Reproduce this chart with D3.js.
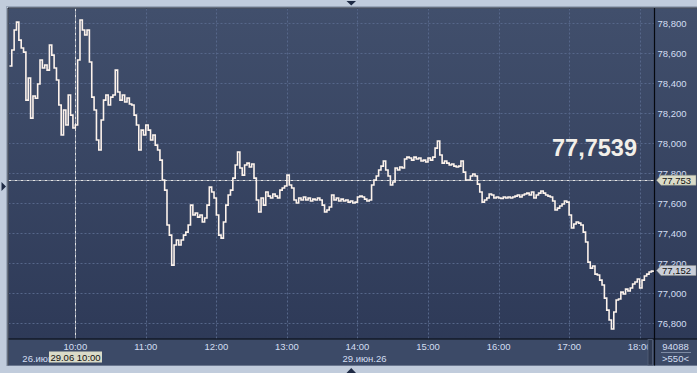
<!DOCTYPE html>
<html>
<head>
<meta charset="utf-8">
<script src="https://cdn.jsdelivr.net/npm/d3@7"></script>
<style>
  html, body { margin: 0; padding: 0; background: #c1ccdc; overflow: hidden; }
  svg { display: block; }
  .lbl { font-family: "Liberation Sans", Arial, sans-serif; font-size: 9.5px; fill: #d3def2; }
  .grid line { stroke: #56678a; stroke-width: 1; stroke-dasharray: 2,2; }
</style>
</head>
<body>
<div id="chart"></div>
<script>
// USD/RUB intraday, 2-minute closes. Time is minutes relative to 29.06 10:00
// (points before 0 are the tail of the 26.06 session).
const startMinute = -56;
const stepMinutes = 2;
const prices = [
  78.515, 78.622, 78.755, 78.808, 78.688, 78.635, 78.608, 78.288, 78.435, 78.168,
  78.315, 78.300, 78.395, 78.555, 78.502, 78.522, 78.488, 78.655, 78.588, 78.502,
  78.422, 78.255, 78.055, 78.222, 78.122, 78.322, 78.188, 78.102, 78.122, 78.555,
  78.822, 78.755, 78.722, 78.755, 78.542, 78.308, 78.222, 78.022, 77.955, 78.155,
  78.288, 78.322, 78.255, 78.308, 78.322, 78.488, 78.342, 78.288, 78.322, 78.275,
  78.302, 78.262, 78.255, 78.188, 78.122, 77.955, 78.088, 78.055, 78.122, 78.088,
  78.022, 78.055, 77.988, 77.955, 77.888, 77.755, 77.688, 77.455, 77.388, 77.188,
  77.322, 77.355, 77.322, 77.355, 77.388, 77.408, 77.455, 77.588, 77.522, 77.535,
  77.508, 77.522, 77.475, 77.502, 77.588, 77.708, 77.675, 77.635, 77.522, 77.388,
  77.368, 77.475, 77.588, 77.655, 77.688, 77.768, 77.855, 77.942, 77.835, 77.788,
  77.855, 77.868, 77.842, 77.862, 77.768, 77.622, 77.542, 77.635, 77.588, 77.675,
  77.648, 77.635, 77.662, 77.648, 77.635, 77.688, 77.702, 77.715, 77.788, 77.722,
  77.702, 77.622, 77.602, 77.635, 77.622, 77.642, 77.622, 77.635, 77.615, 77.628,
  77.622, 77.635, 77.622, 77.588, 77.542, 77.555, 77.575, 77.655, 77.622, 77.635,
  77.615, 77.628, 77.615, 77.622, 77.608, 77.615, 77.602, 77.608, 77.642, 77.648,
  77.642, 77.628, 77.615, 77.622, 77.722, 77.755, 77.782, 77.822, 77.848, 77.882,
  77.822, 77.782, 77.722, 77.742, 77.835, 77.822, 77.842, 77.835, 77.895, 77.908,
  77.902, 77.888, 77.908, 77.895, 77.902, 77.882, 77.888, 77.875, 77.902, 77.888,
  77.908, 77.968, 78.015, 77.922, 77.868, 77.882, 77.868, 77.855, 77.862, 77.848,
  77.842, 77.848, 77.882, 77.808, 77.755, 77.755, 77.782, 77.795, 77.782, 77.728,
  77.675, 77.608, 77.622, 77.635, 77.662, 77.655, 77.635, 77.642, 77.635, 77.632,
  77.642, 77.635, 77.642, 77.635, 77.642, 77.648, 77.655, 77.642, 77.655, 77.662,
  77.668, 77.655, 77.675, 77.635, 77.655, 77.668, 77.682, 77.668, 77.655, 77.648,
  77.642, 77.615, 77.555, 77.568, 77.582, 77.595, 77.615, 77.608, 77.522, 77.435,
  77.462, 77.475, 77.468, 77.455, 77.408, 77.342, 77.208, 77.168, 77.182, 77.128,
  77.122, 77.088, 77.055, 76.968, 76.888, 76.822, 76.762, 76.875, 76.955, 76.962,
  77.008, 76.995, 77.028, 77.015, 77.035, 77.062, 77.075, 77.095, 77.035, 77.088,
  77.115, 77.128, 77.142, 77.148, 77.152
];

const priceTicks = [76.8, 77.0, 77.2, 77.4, 77.6, 77.8, 78.0, 78.2, 78.4, 78.6, 78.8];
const timeTicks  = [0, 60, 120, 180, 240, 300, 360, 420, 480];
const timeLabels = ["10:00", "11:00", "12:00", "13:00", "14:00", "15:00", "16:00", "17:00", "18:00"];
const dateLabels = [
  { minute: -45, text: "26.июн", anchor: "start" },
  { minute: 246, text: "29.июн.26", anchor: "middle" }
];
const crossMinute = 0;
const crossLabel = "29.06 10:00";
const crossPrice = 77.7539;
const bigQuote = "77,7539";
const volumeText = "94088";
const scaleText = ">550<";

const W = 697, H = 373;
const plot = { left: 8.5, top: 8.5, right: 654.5, bottom: 339 };

const svg = d3.select("#chart").append("svg")
  .attr("width", W).attr("height", H);

const defs = svg.append("defs");
const bg = defs.append("linearGradient").attr("id", "bg")
  .attr("x1", 0).attr("y1", 0).attr("x2", 0).attr("y2", 1);
bg.append("stop").attr("offset", "0%").attr("stop-color", "#414f6c");
bg.append("stop").attr("offset", "100%").attr("stop-color", "#2e3a58");
defs.append("clipPath").attr("id", "clip").append("rect")
  .attr("x", plot.left).attr("y", plot.top)
  .attr("width", plot.right - plot.left).attr("height", plot.bottom - plot.top);

// frame
svg.append("rect").attr("x", 0).attr("y", 0).attr("width", W).attr("height", H)
  .attr("fill", "#c1ccdc");
svg.append("rect").attr("x", 6.5).attr("y", 6.5).attr("width", W).attr("height", 359)
  .attr("fill", "none").attr("stroke", "#9aa7ba");

// panels
svg.append("rect").attr("x", plot.left).attr("y", plot.top)
  .attr("width", W - plot.left).attr("height", plot.bottom - plot.top)
  .attr("fill", "url(#bg)");
svg.append("rect").attr("x", plot.left).attr("y", plot.bottom)
  .attr("width", W - plot.left).attr("height", 365.5 - plot.bottom)
  .attr("fill", "#3c4a67");

// SCALES
const x = d3.scaleLinear().domain([-56.8, 492.2]).range([plot.left, 654]);
const y = d3.scaleLinear().domain([76.6953, 78.8987]).range([plot.bottom, plot.top]);

const fmt3 = v => d3.format(".3f")(v).replace(".", ",");
// the price tag truncates instead of rounding
const fmtTag = v => fmt3(Math.floor(v * 1000 + 1e-6) / 1000);

// grid
const grid = svg.append("g").attr("class", "grid");
grid.selectAll("line.h").data(priceTicks).join("line").attr("class", "h")
  .attr("x1", plot.left).attr("x2", plot.right)
  .attr("y1", d => Math.round(y(d)) + 0.5).attr("y2", d => Math.round(y(d)) + 0.5);
grid.selectAll("line.v").data(timeTicks).join("line").attr("class", "v")
  .attr("y1", plot.top).attr("y2", plot.bottom)
  .attr("x1", d => Math.round(x(d)) + 0.5).attr("x2", d => Math.round(x(d)) + 0.5);

// crosshair
const cy = Math.round(y(crossPrice)) + 0.5;
const cx = Math.round(x(crossMinute)) + 0.5;
svg.append("line").attr("x1", plot.left).attr("x2", plot.right).attr("y1", cy).attr("y2", cy)
  .attr("stroke", "#e6e6e6").attr("stroke-dasharray", "3,1,1,1");
svg.append("line").attr("x1", cx).attr("x2", cx).attr("y1", plot.top).attr("y2", plot.bottom)
  .attr("stroke", "#e6e6e6").attr("stroke-dasharray", "3,1,1,1");

// price line
const series = prices.map((p, i) => ({ t: startMinute + i * stepMinutes, p }));
const line = d3.line().x(d => x(d.t)).y(d => y(d.p)).curve(d3.curveStepAfter);
svg.append("path").datum(series)
  .attr("clip-path", "url(#clip)")
  .attr("d", line)
  .attr("fill", "none")
  .attr("stroke", "#fdf3ec")
  .attr("stroke-width", 1.6)
  .attr("stroke-linejoin", "miter");

// big quote
svg.append("text").attr("x", 637).attr("y", 156)
  .attr("text-anchor", "end")
  .style("font-family", "'Liberation Sans', Arial, sans-serif")
  .style("font-weight", "bold").style("font-size", "23.5px")
  .style("fill", "#f2efe9")
  .text(bigQuote);

// borders
svg.append("line").attr("x1", plot.left - 0.5).attr("x2", W).attr("y1", 8).attr("y2", 8)
  .attr("stroke", "#0d1320");
svg.append("line").attr("x1", 8).attr("x2", 8).attr("y1", 8).attr("y2", 365.5)
  .attr("stroke", "#0d1320");
svg.append("line").attr("x1", plot.left).attr("x2", W).attr("y1", plot.bottom).attr("y2", plot.bottom)
  .attr("stroke", "#05080f").attr("stroke-width", 1.2);
svg.append("line").attr("x1", plot.right).attr("x2", plot.right).attr("y1", 8).attr("y2", 365.5)
  .attr("stroke", "#05080f").attr("stroke-width", 1.2);

// right axis labels
svg.append("g").selectAll("text").data(priceTicks).join("text")
  .attr("class", "lbl")
  .attr("x", 657.5).attr("y", d => y(d) + 4)
  .text(d => fmt3(d));

// bottom time labels
svg.append("g").selectAll("text").data(timeTicks).join("text")
  .attr("class", "lbl")
  .attr("text-anchor", "middle")
  .attr("x", d => x(d)).attr("y", 350)
  .text((d, i) => timeLabels[i]);

svg.append("g").selectAll("text").data(dateLabels).join("text")
  .attr("class", "lbl")
  .attr("text-anchor", d => d.anchor)
  .attr("x", d => x(d.minute)).attr("y", 361.5)
  .text(d => d.text);

// scroller stub near the right end of the time axis
svg.append("rect").attr("x", 648).attr("y", 339.6).attr("width", 4.5).attr("height", 25.5)
  .attr("fill", "#2f3a52").attr("stroke", "#56627a").attr("stroke-width", 0.8);

// crosshair time label
svg.append("rect").attr("x", cx - 26.5).attr("y", 351.5).attr("width", 53).attr("height", 11)
  .attr("fill", "#dadbc8");
svg.append("text").attr("x", cx).attr("y", 360.5).attr("text-anchor", "middle")
  .style("font-family", "'Liberation Sans', Arial, sans-serif").style("font-size", "9.5px")
  .style("fill", "#111").text(crossLabel);

// price tags on the right axis
function tag(value, fill) {
  const ty = y(value);
  svg.append("path")
    .attr("d", `M656.5,${ty} L661,${ty - 5} L696,${ty - 5} L696,${ty + 5} L661,${ty + 5} Z`)
    .attr("fill", fill).attr("stroke", "#8b8f86").attr("stroke-width", 0.5);
  svg.append("text").attr("x", 662).attr("y", ty + 3.6)
    .style("font-family", "'Liberation Sans', Arial, sans-serif").style("font-size", "9.5px")
    .style("fill", "#111").text(fmtTag(value));
}
tag(crossPrice, "#dadbc8");
tag(prices[prices.length - 1], "#c9ced8");

// volume / zoom box
svg.append("text").attr("class", "lbl").attr("x", 675.5).attr("y", 349.5)
  .attr("text-anchor", "middle").text(volumeText);
svg.append("line").attr("x1", 661).attr("x2", 691).attr("y1", 352.5).attr("y2", 352.5)
  .attr("stroke", "#7d8aa3");
svg.append("text").attr("class", "lbl").attr("x", 675.5).attr("y", 361.5)
  .attr("text-anchor", "middle").text(scaleText);

// frame triangles
svg.append("path").attr("d", "M346.5,1 L356,1 L351.25,5.5 Z").attr("fill", "#1e2a44");
svg.append("path").attr("d", "M346.5,373 L356,373 L351.25,368 Z").attr("fill", "#1e2a44");
svg.append("path").attr("d", "M1.5,182 L1.5,191 L6,186.5 Z").attr("fill", "#1e2a44");
</script>
</body>
</html>
